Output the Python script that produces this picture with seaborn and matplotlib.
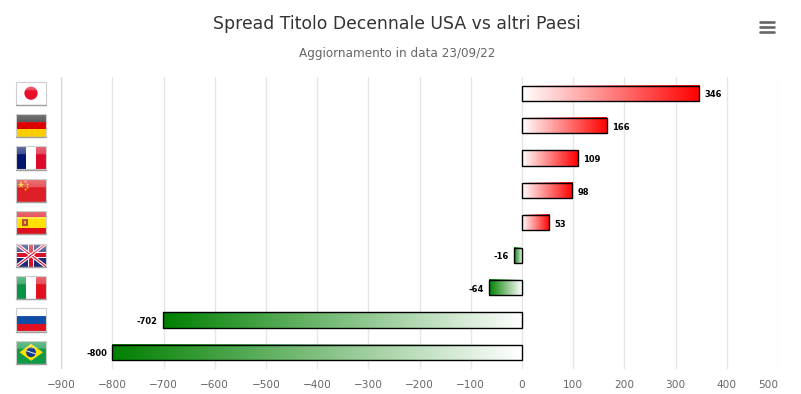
import numpy as np
import pandas as pd
import matplotlib
matplotlib.use('Agg')
import matplotlib.pyplot as plt
import seaborn as sns
from matplotlib.colors import LinearSegmentedColormap
from matplotlib.lines import Line2D
from matplotlib.patches import Rectangle, Circle, Polygon

# data
paesi = ['Giappone', 'Germania', 'Francia', 'Cina', 'Spagna', 'Regno Unito', 'Italia', 'Russia', 'Brasile']
spread = [346, 166, 109, 98, 53, -16, -64, -702, -800]
x_ticks = [-900, -800, -700, -600, -500, -400, -300, -200, -100, 0, 100, 200, 300, 400, 500]

W, H = 801, 394

sns.set_theme(style='white')
plt.rcParams['font.family'] = ['DejaVu Sans']

fig = plt.figure(figsize=(W / 100, H / 100), dpi=100, facecolor='white')
ax = fig.add_axes([61.2 / W, 1 - 368.5 / H, (778 - 61.2) / W, (368.5 - 77) / H])

df = pd.DataFrame({'paese': paesi, 'spread': spread})
sns.barplot(data=df, y='paese', x='spread', orient='h', width=0.47, ax=ax,
            color='white', edgecolor='black', linewidth=1.0, zorder=3)

# gradient fill clipped to each bar
reds = LinearSegmentedColormap.from_list('r', ['#ffffff', '#ff0000'])
greens = LinearSegmentedColormap.from_list('g', ['#008000', '#ffffff'])
grad = np.linspace(0, 1, 256).reshape(1, -1)
for bar, val in zip(ax.patches, spread):
    x0, x1 = sorted([bar.get_x(), bar.get_x() + bar.get_width()])
    y0, y1 = bar.get_y(), bar.get_y() + bar.get_height()
    ax.imshow(grad, cmap=reds if val > 0 else greens, extent=[x0, x1, y1, y0],
              aspect='auto', zorder=3.5)
    bar.set_facecolor('none')
    bar.set_zorder(4)
    ax.annotate(str(val), (val, bar.get_y() + bar.get_height() / 2),
                xytext=(3.8 if val > 0 else -3.8, -1.2), textcoords='offset points',
                ha='left' if val > 0 else 'right', va='center',
                fontsize=6, fontweight='bold', color='black', zorder=5)

ax.set_xlim(-900, 500)
ax.set_ylim(8.5, -0.5)
ax.set_xticks(x_ticks)
ax.set_xticklabels(['\u2212' + str(-t) if t < 0 else str(t) for t in x_ticks])
ax.get_xticklabels()[-1].set_ha('right')
ax.set_yticks(range(len(paesi)))
ax.set_yticklabels([])
ax.set_xlabel('')
ax.set_ylabel('')
ax.tick_params(axis='x', length=0, pad=8, labelsize=7.6, labelcolor='#666666')
ax.tick_params(axis='y', length=0)
ax.xaxis.grid(True, color='#e6e6e6', linewidth=1, zorder=0)
ax.set_axisbelow(True)
sns.despine(ax=ax, left=True, bottom=True, top=True, right=True)
ax.axvline(-900, color='#ccd6eb', linewidth=1, zorder=1)

fig.text(397 / W, 1 - 24 / H, 'Spread Titolo Decennale USA vs altri Paesi', ha='center', va='center',
         fontsize=12.4, color='#333333')
fig.text(397 / W, 1 - 53 / H, 'Aggiornamento in data 23/09/22', ha='center', va='center',
         fontsize=8.65, color='#666666')


# flags are drawn in a 30x23 box
def stripes_h(a, cols):
    n = len(cols)
    for i, c in enumerate(cols):
        a.add_patch(Rectangle((0, i * 23 / n), 30, 23 / n, color=c, lw=0))


def stripes_v(a, cols):
    n = len(cols)
    for i, c in enumerate(cols):
        a.add_patch(Rectangle((i * 30 / n, 0), 30 / n, 23, color=c, lw=0))


def japan(a):
    a.add_patch(Rectangle((0, 0), 30, 23, color='white', lw=0))
    a.add_patch(Circle((15, 11.5), 6.6, color='#e8102a', lw=0))


def germany(a):
    stripes_h(a, ['#222222', '#dd0000', '#ffce00'])


def france(a):
    stripes_v(a, ['#00146e', '#ffffff', '#dc0a28'])


def china(a):
    a.add_patch(Rectangle((0, 0), 30, 23, color='#de1f26', lw=0))
    a.plot([5], [6.5], marker='*', ms=5.5, color='#ffde00', mew=0)
    for px, py in [(9, 2.5), (11, 5), (11, 8), (9, 10.5)]:
        a.plot([px], [py], marker='*', ms=2.2, color='#ffde00', mew=0)


def spain(a):
    a.add_patch(Rectangle((0, 0), 30, 23, color='#ffe000', lw=0))
    a.add_patch(Rectangle((0, 0), 30, 6, color='#dd1020', lw=0))
    a.add_patch(Rectangle((0, 17), 30, 6, color='#dd1020', lw=0))
    a.add_patch(Rectangle((6, 8), 5.5, 7, color='#b5502a', lw=0))
    a.add_patch(Rectangle((7.5, 9.5), 2.5, 3, color='#e9b04a', lw=0))


def uk(a):
    a.add_patch(Rectangle((0, 0), 30, 23, color='#1c2a78', lw=0))
    for y0, y1 in [(0, 23), (23, 0)]:
        a.plot([0, 30], [y0, y1], color='white', lw=2.4, solid_capstyle='butt')
        a.plot([0, 30], [y0, y1], color='#d8102a', lw=0.8, solid_capstyle='butt')
    a.add_patch(Rectangle((11.7, 0), 6.6, 23, color='white', lw=0))
    a.add_patch(Rectangle((0, 8.2), 30, 6.6, color='white', lw=0))
    a.add_patch(Rectangle((13, 0), 4, 23, color='#d8102a', lw=0))
    a.add_patch(Rectangle((0, 9.5), 30, 4, color='#d8102a', lw=0))


def italy(a):
    stripes_v(a, ['#0a9246', '#ffffff', '#e0101e'])


def russia(a):
    stripes_h(a, ['#ffffff', '#0d4fa8', '#e0101e'])


def brazil(a):
    a.add_patch(Rectangle((0, 0), 30, 23, color='#109a48', lw=0))
    a.add_patch(Polygon([(3.5, 11.5), (15, 3), (27, 11.5), (15, 20)], color='#ffe000', lw=0))
    a.add_patch(Circle((15, 11.5), 4.9, color='#1a3a8c', lw=0))
    a.plot([10.5, 19.5], [10, 13], color='#e8eef5', lw=0.7)


flags = [japan, germany, france, china, spain, uk, italy, russia, brazil]
fade = np.linspace(0, 1, 64)
gloss = np.ones((64, 1, 4))
gloss[:, 0, 3] = np.where(fade < 0.36, 0.38 - 0.35 * fade, 0.0)
for i, draw in enumerate(flags):
    yc = ax.transData.transform((0, i))[1]
    a = fig.add_axes([16 / W, (yc - 11.5) / H, 30 / W, 23 / H], zorder=3)
    a.axis('off')
    draw(a)
    a.imshow(gloss, extent=[0, 30, 23, 0], aspect='auto', zorder=10)
    a.set_xlim(0, 30)
    a.set_ylim(23, 0)
    a.add_patch(Rectangle((0, 0), 30, 23, fill=False, ec='#cfcfcf', lw=0.8, zorder=11, clip_on=False))
    a.add_line(Line2D([0, 30], [23.2, 23.2], color='#a0a0a0', lw=1, zorder=12, clip_on=False))

# export menu icon
for y in [22.4, 27.4, 32.4]:
    fig.add_artist(Line2D([760 / W, 774 / W], [1 - y / H, 1 - y / H], transform=fig.transFigure,
                          color='#666666', lw=1.9, solid_capstyle='round'))

fig.savefig('out.png', dpi=100)
